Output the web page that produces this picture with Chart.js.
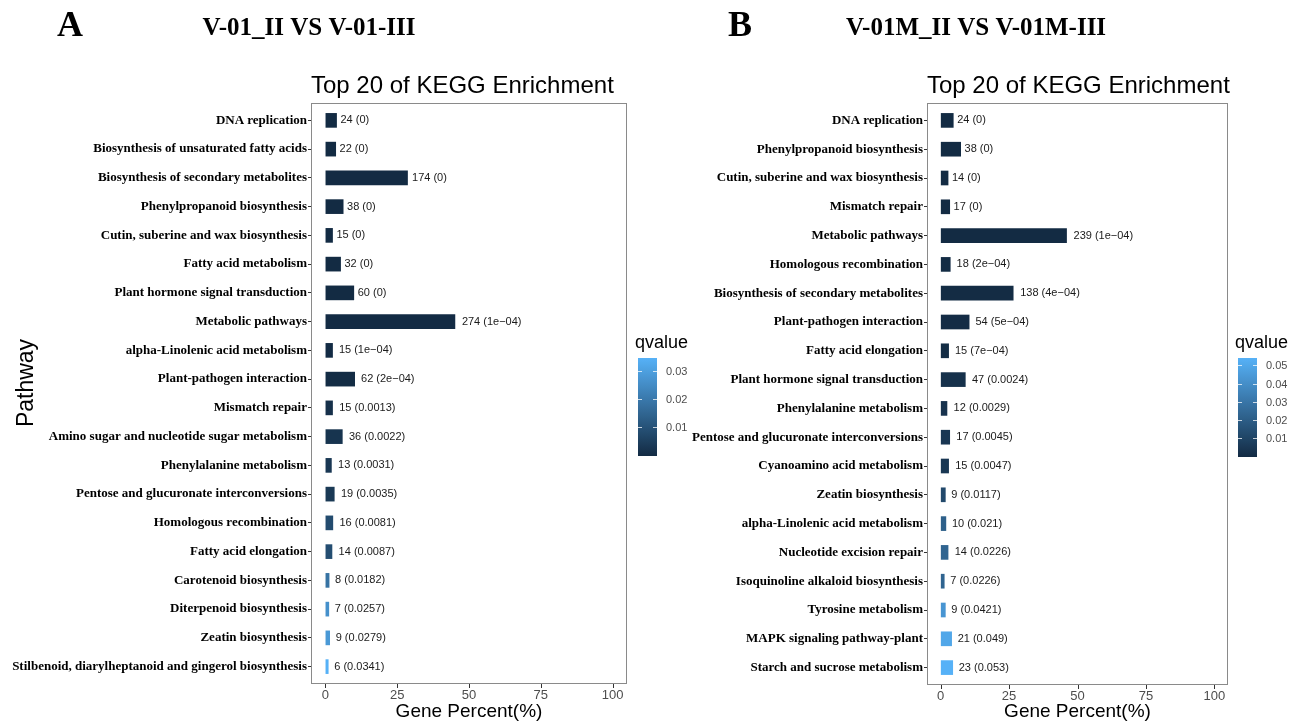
<!DOCTYPE html>
<html lang="en">
<head>
<meta charset="UTF-8">
<title>Top 20 of KEGG Enrichment</title>
<script src="https://cdn.jsdelivr.net/npm/chart.js"></script>
<style>
    body { margin: 0; background: #fff; width: 1301px; height: 723px; position: relative; overflow: hidden; }
    canvas { position: absolute; top: 0; }
    #chartA { left: 0; }
    #chartB { left: 640px; }
</style>
</head>
<body>
<canvas id="chartA" width="720" height="723"></canvas>
<canvas id="chartB" width="661" height="723"></canvas>

<script>
    // ---- panel A: V-01_II VS V-01-III ----
    const pathwaysA = [
        "DNA replication", "Biosynthesis of unsaturated fatty acids", "Biosynthesis of secondary metabolites",
        "Phenylpropanoid biosynthesis", "Cutin, suberine and wax biosynthesis", "Fatty acid metabolism",
        "Plant hormone signal transduction", "Metabolic pathways", "alpha-Linolenic acid metabolism",
        "Plant-pathogen interaction", "Mismatch repair", "Amino sugar and nucleotide sugar metabolism",
        "Phenylalanine metabolism", "Pentose and glucuronate interconversions", "Homologous recombination",
        "Fatty acid elongation", "Carotenoid biosynthesis", "Diterpenoid biosynthesis", "Zeatin biosynthesis",
        "Stilbenoid, diarylheptanoid and gingerol biosynthesis"
    ];
    const countsA = [24, 22, 174, 38, 15, 32, 60, 274, 15, 62, 15, 36, 13, 19, 16, 14, 8, 7, 9, 6];
    const percentA = [3.9, 3.6, 28.6, 6.2, 2.5, 5.3, 9.9, 45.1, 2.5, 10.2, 2.5, 5.9, 2.1, 3.1, 2.6, 2.3, 1.3, 1.2, 1.5, 1.0];
    const qvalA = [0, 0, 0, 0, 0, 0, 0, 1e-4, 1e-4, 2e-4, 0.0013, 0.0022, 0.0031, 0.0035, 0.0081, 0.0087, 0.0182, 0.0257, 0.0279, 0.0341];
    const qTicksA = [0.01, 0.02, 0.03];

    // ---- panel B: V-01M_II VS V-01M-III ----
    const pathwaysB = [
        "DNA replication", "Phenylpropanoid biosynthesis", "Cutin, suberine and wax biosynthesis",
        "Mismatch repair", "Metabolic pathways", "Homologous recombination",
        "Biosynthesis of secondary metabolites", "Plant-pathogen interaction", "Fatty acid elongation",
        "Plant hormone signal transduction", "Phenylalanine metabolism", "Pentose and glucuronate interconversions",
        "Cyanoamino acid metabolism", "Zeatin biosynthesis", "alpha-Linolenic acid metabolism",
        "Nucleotide excision repair", "Isoquinoline alkaloid biosynthesis", "Tyrosine metabolism",
        "MAPK signaling pathway-plant", "Starch and sucrose metabolism"
    ];
    const countsB = [24, 38, 14, 17, 239, 18, 138, 54, 15, 47, 12, 17, 15, 9, 10, 14, 7, 9, 21, 23];
    const percentB = [4.6, 7.3, 2.7, 3.3, 46.0, 3.5, 26.5, 10.4, 2.9, 9.0, 2.3, 3.3, 2.9, 1.7, 1.9, 2.7, 1.3, 1.7, 4.0, 4.4];
    const qvalB = [0, 0, 0, 0, 1e-4, 2e-4, 4e-4, 5e-4, 7e-4, 0.0024, 0.0029, 0.0045, 0.0047, 0.0117, 0.021, 0.0226, 0.0226, 0.0421, 0.049, 0.053];
    const qTicksB = [0.01, 0.02, 0.03, 0.04, 0.05];

    const xTicks = [0, 25, 50, 75, 100];

    const SANS = '"Liberation Sans", Arial, Helvetica, sans-serif';
    const SERIF = '"Liberation Serif", "Times New Roman", serif';
    const LOW = [19, 43, 67], HIGH = [86, 177, 247];
    const PANEL_PAD = 3; // border sits a little outside the category bands

    function qColor(t) {
        t = Math.max(0, Math.min(1, t));
        const c = LOW.map((v, i) => Math.round(v + (HIGH[i] - v) * t));
        return `rgb(${c[0]},${c[1]},${c[2]})`;
    }

    // 1e-04 style like R prints small numbers
    function fmtQ(q) {
        if (q === 0) return "0";
        if (q < 0.001) {
            const [m, e] = q.toExponential(0).split("e");
            const n = Math.abs(parseInt(e, 10));
            return m + "e\u2212" + String(n).padStart(2, "0");
        }
        return String(q);
    }

    const decor = {
        id: 'decor',
        afterDraw(chart, args, o) {
            const ctx = chart.ctx, a = chart.chartArea;
            const top = a.top - PANEL_PAD, bottom = a.bottom + PANEL_PAD;
            ctx.save();

            // value labels next to the bars
            const meta = chart.getDatasetMeta(0);
            ctx.font = '11px ' + SANS;
            ctx.fillStyle = '#1a1a1a';
            ctx.textBaseline = 'middle';
            ctx.textAlign = 'left';
            meta.data.forEach((bar, i) => {
                const txt = o.counts[i] + ' (' + fmtQ(o.qvals[i]) + ')';
                const w = ctx.measureText(txt).width;
                ctx.fillText(txt, bar.x + 0.1 * w + 1, bar.y);
            });

            // panel border and x tick marks
            ctx.strokeStyle = '#8a8a8a';
            ctx.lineWidth = 1;
            ctx.strokeRect(a.left + 0.5, top + 0.5, a.right - a.left - 1, bottom - top - 1);
            ctx.strokeStyle = '#333';
            ctx.beginPath();
            xTicks.forEach(v => {
                const x = Math.round(chart.scales.x.getPixelForValue(v)) + 0.5;
                ctx.moveTo(x, bottom); ctx.lineTo(x, bottom + 4);
            });
            ctx.stroke();

            // headings
            ctx.fillStyle = '#000';
            ctx.textBaseline = 'alphabetic';
            ctx.font = 'bold 36px ' + SERIF;
            ctx.fillText(o.tag, o.tagX, 36);
            ctx.font = 'bold 25px ' + SERIF;
            ctx.textAlign = 'center';
            ctx.fillText(o.heading, o.headingX, 35);

            ctx.font = '24px ' + SANS;
            ctx.textAlign = 'left';
            ctx.fillText('Top 20 of KEGG Enrichment', a.left, 93);

            ctx.font = '19px ' + SANS;
            ctx.textAlign = 'center';
            ctx.fillText('Gene Percent(%)', (a.left + a.right) / 2, 717);

            if (o.yTitle) {
                ctx.save();
                ctx.translate(33, 383);
                ctx.rotate(-Math.PI / 2);
                ctx.font = '23px ' + SANS;
                ctx.fillText(o.yTitle, 0, 0);
                ctx.restore();
            }

            // qvalue colour bar
            const cb = o.cbar;
            ctx.textAlign = 'left';
            ctx.font = '18px ' + SANS;
            ctx.fillText('qvalue', cb.x - 3, 348);
            const grad = ctx.createLinearGradient(0, cb.bottom, 0, cb.top);
            for (let i = 0; i <= 10; i++) grad.addColorStop(i / 10, qColor(i / 10));
            ctx.fillStyle = grad;
            ctx.fillRect(cb.x, cb.top, cb.w, cb.bottom - cb.top);

            ctx.font = '11px ' + SANS;
            ctx.textBaseline = 'middle';
            o.qTicks.forEach(q => {
                const y = Math.round(cb.bottom - 1 - q / o.qMax * (cb.bottom - cb.top - 3)) + 0.5;
                ctx.strokeStyle = 'rgba(255,255,255,0.75)';
                ctx.beginPath();
                ctx.moveTo(cb.x, y); ctx.lineTo(cb.x + 4, y);
                ctx.moveTo(cb.x + cb.w - 4, y); ctx.lineTo(cb.x + cb.w, y);
                ctx.stroke();
                ctx.fillStyle = '#4d4d4d';
                ctx.fillText(String(q), cb.x + cb.w + 9, y);
            });

            ctx.restore();
        }
    };

    function makePanel(canvasId, p) {
        const qMax = Math.max(...p.qvals);
        return new Chart(document.getElementById(canvasId), {
            type: 'bar',
            data: {
                labels: p.labels,
                datasets: [{
                    data: p.percent,
                    backgroundColor: p.qvals.map(q => qColor(q / qMax)),
                    borderWidth: 0,
                    barThickness: 14
                }]
            },
            options: {
                indexAxis: 'y',
                responsive: false,
                animation: false,
                devicePixelRatio: 1,
                layout: { padding: { left: 0, top: 103 + PANEL_PAD, right: p.padRight, bottom: 0 } },
                plugins: {
                    legend: { display: false },
                    tooltip: { enabled: false },
                    decor: {
                        counts: p.counts, qvals: p.qvals, qMax: qMax, qTicks: p.qTicks,
                        tag: p.tag, tagX: p.tagX, heading: p.heading, headingX: p.headingX,
                        yTitle: p.yTitle, cbar: p.cbar
                    }
                },
                scales: {
                    x: {
                        min: -5, max: 105,
                        afterBuildTicks: s => { s.ticks = xTicks.map(v => ({ value: v })); },
                        afterFit: s => { s.height = 723 - p.bottom + PANEL_PAD; },
                        grid: { drawOnChartArea: false, drawTicks: true, tickLength: 4 + PANEL_PAD, color: 'rgba(0,0,0,0)' },
                        border: { display: false },
                        ticks: { color: '#4d4d4d', font: { family: SANS, size: 13 }, padding: 0, maxRotation: 0 }
                    },
                    y: {
                        afterFit: s => { s.width = p.areaLeft; },
                        grid: { offset: false, drawOnChartArea: false, drawTicks: true, tickLength: 3, color: '#333' },
                        border: { display: false },
                        ticks: { autoSkip: false, color: '#000', padding: 1, font: { family: SERIF, size: 13, weight: 'bold' } }
                    }
                }
            },
            plugins: [decor]
        });
    }

    makePanel('chartA', {
        labels: pathwaysA, counts: countsA, percent: percentA, qvals: qvalA, qTicks: qTicksA,
        areaLeft: 311, padRight: 720 - 627, bottom: 684,
        tag: 'A', tagX: 57, heading: 'V-01_II VS V-01-III', headingX: 309, yTitle: 'Pathway',
        cbar: { x: 638, w: 19, top: 358, bottom: 456 }
    });

    makePanel('chartB', {
        labels: pathwaysB, counts: countsB, percent: percentB, qvals: qvalB, qTicks: qTicksB,
        areaLeft: 287, padRight: 661 - 588, bottom: 685,
        tag: 'B', tagX: 88, heading: 'V-01M_II VS V-01M-III', headingX: 336, yTitle: null,
        cbar: { x: 598, w: 19, top: 358, bottom: 457 }
    });
</script>
</body>
</html>
